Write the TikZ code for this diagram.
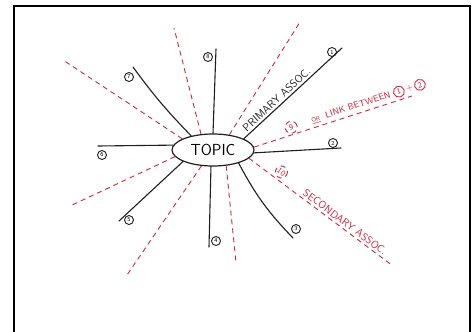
\documentclass[tikz,border=0pt]{standalone}
\usepackage{tikz}
\usetikzlibrary{shapes.geometric}
\definecolor{penred}{rgb}{0.79,0.16,0.25}
\definecolor{penblack}{rgb}{0.12,0.12,0.12}
\tikzset{
  hub/.style={
    ellipse,
    draw=penblack,
    line width=1.2pt,
    minimum width=82pt,
    minimum height=32pt,
    inner sep=0pt,
    font=\sffamily\fontsize{16}{16}\selectfont
  },
  branch/.style={
    draw=penblack,
    line width=1.1pt,
    line cap=round
  },
  num/.style={
    circle,
    draw=penblack,
    line width=.9pt,
    inner sep=0pt,
    minimum size=9pt,
    font=\sffamily\fontsize{6}{6}\selectfont
  },
  link/.style={
    draw=penred,
    line width=.9pt,
    dash pattern=on 5pt off 4pt
  },
  rednum/.style={
    circle,
    draw=penred,
    text=penred,
    line width=.9pt,
    inner sep=0pt,
    minimum size=12pt,
    font=\sffamily\fontsize{8}{8}\selectfont
  },
  note/.style={
    text=penred,
    inner sep=1pt,
    font=\sffamily\fontsize{9}{9}\selectfont
  }
}
\newcommand{\rednumber}[1]{\tikz[baseline=(r.base)]\node[rednum,minimum size=11pt] (r) {#1};}

\begin{document}
\begin{tikzpicture}[x=1pt,y=-1pt]
\useasboundingbox (0,0) rectangle (475,332);
\fill[white] (0,0) rectangle (475,332);
\draw[line width=1.8pt] (14,332) -- (14,6) -- (470,6) -- (470,332);

\node[hub] (topic) at (213,150) {TOPIC};

\coordinate (e1) at (342,48);
\coordinate (e2) at (341,148);
\coordinate (e3) at (293,238);
\coordinate (e4) at (209,247);
\coordinate (e5) at (119,221);
\coordinate (e6) at (98,146);
\coordinate (e7) at (133,67);
\coordinate (e8) at (216,49);

\node[num] (n1) at (332,52) {1};
\node[num] (n2) at (333,143) {2};
\node[num] (n3) at (296,229) {3};
\node[num] (n4) at (216,241) {4};
\node[num] (n5) at (129,220) {5};
\node[num] (n6) at (102,155) {6};
\node[num] (n7) at (129,77) {7};
\node[num] (n8) at (208,57) {8};

\coordinate (d1) at (63,60);
\coordinate (d2) at (174,28);
\coordinate (d3) at (300,22);
\coordinate (d4) at (412,96);
\coordinate (d5) at (393,266);
\coordinate (d6) at (236,263);
\coordinate (d7) at (127,275);
\coordinate (d8) at (70,206);

\draw[link] (topic.160) -- (d1);
\draw[link] (topic.127) -- (d2);
\draw[link] (topic.43) -- (d3);
\draw[link] (topic.4) -- (d4)
  node[rednum,pos=.25,above=1pt,sloped] (n9) {9}
  node[note,pos=.74,above=1pt,sloped] (t9) {{\fontsize{6}{6}\selectfont\underline{OR}}\ \ LINK BETWEEN \rednumber{1}\,+\,\rednumber{2}};
\draw[link] (topic.-13) -- (d5)
  node[rednum,pos=.19,above=2pt,sloped] (n10) {10}
  node[note,pos=.64,above=1pt,sloped,font=\sffamily\fontsize{10.5}{10.5}\selectfont] (t10) {SECONDARY ASSOC.};
\draw[link] (topic.-50) -- (d6);
\draw[link] (topic.-126) -- (d7);
\draw[link] (topic.190) -- (d8);

\draw[branch] (topic.20) -- (e1)
  node[pos=.38,above=1pt,sloped,text=penblack,inner sep=1pt,font=\sffamily\fontsize{11}{11}\selectfont] (t1) {PRIMARY ASSOC.};
\draw[branch] (topic.-4) -- (e2);
\draw[branch] (topic.-27) to[bend right=8] (e3);
\draw[branch] (topic.-97) -- (e4);
\draw[branch] (topic.201) -- (e5);
\draw[branch] (topic.173) -- (e6);
\draw[branch] (topic.147) to[bend left=4] (e7);
\draw[branch] (topic.90) -- (e8);
\end{tikzpicture}
\end{document}
